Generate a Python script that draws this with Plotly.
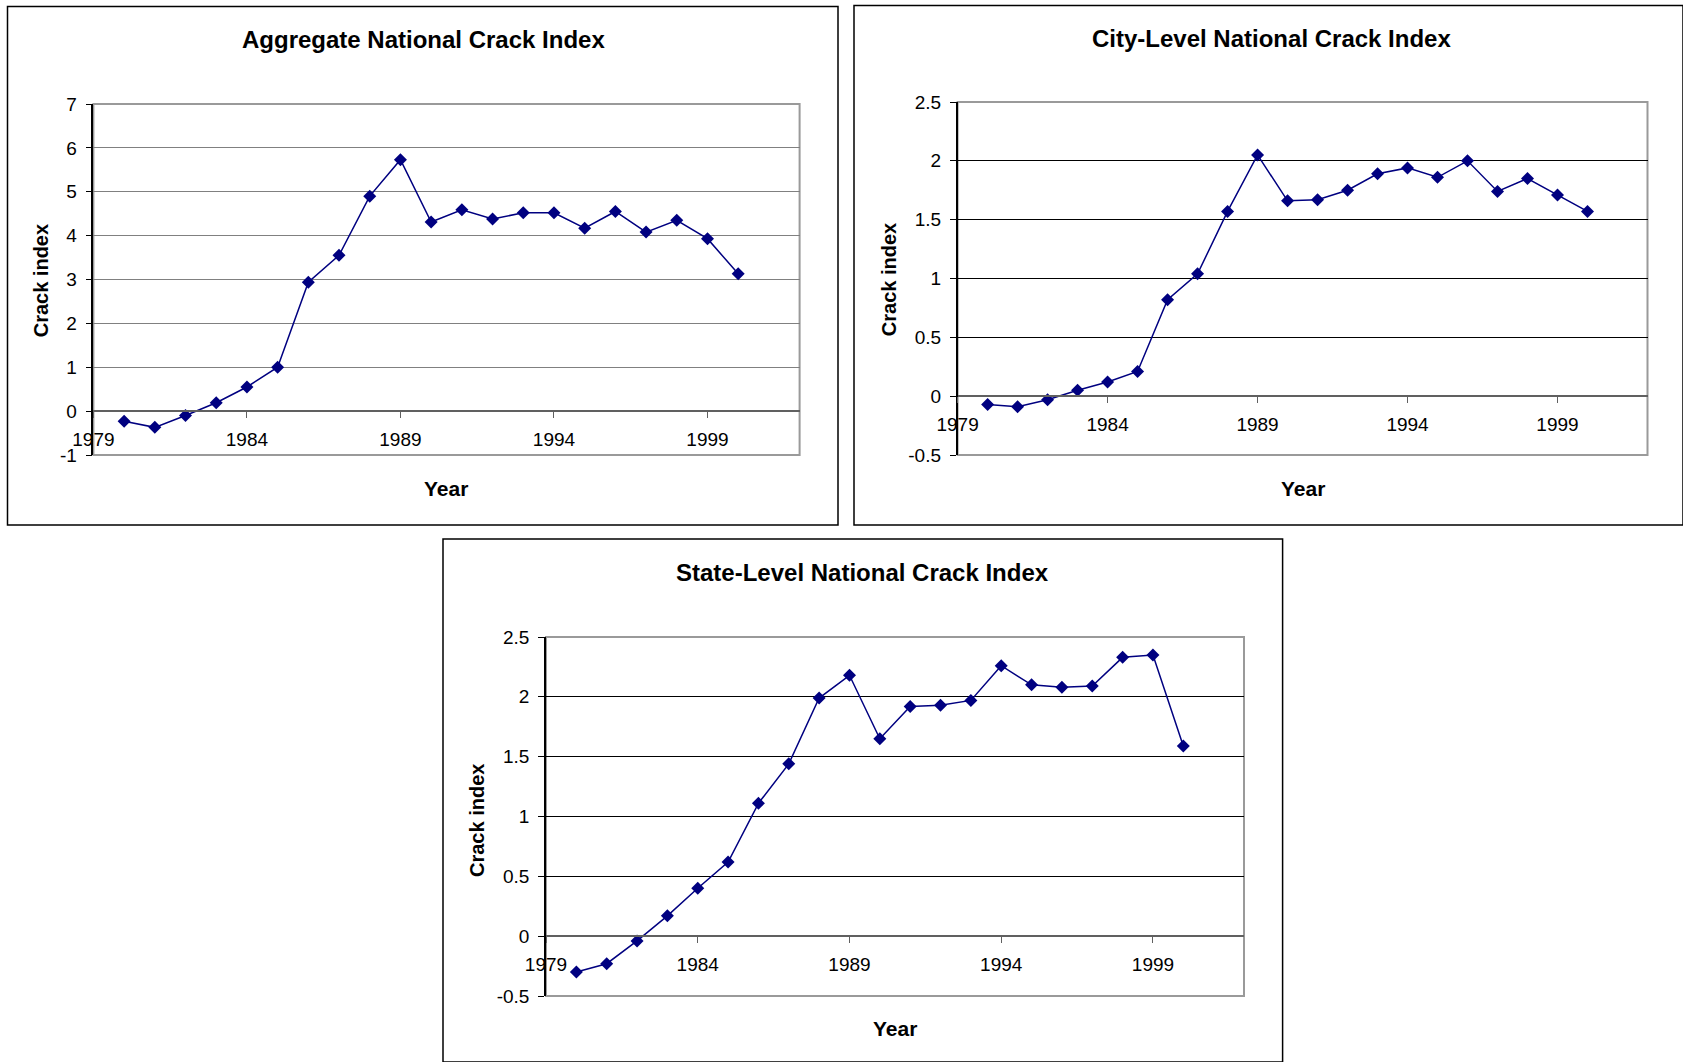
import plotly.graph_objects as go

# ---------------- data ----------------
years = [1980, 1981, 1982, 1983, 1984, 1985, 1986, 1987, 1988, 1989, 1990,
         1991, 1992, 1993, 1994, 1995, 1996, 1997, 1998, 1999, 2000]

aggregate_index = [-0.23, -0.37, -0.10, 0.19, 0.55, 1.00, 2.94, 3.55, 4.90, 5.73, 4.31,
                   4.59, 4.38, 4.52, 4.52, 4.17, 4.55, 4.08, 4.35, 3.93, 3.13]

city_index = [-0.07, -0.09, -0.03, 0.05, 0.12, 0.21, 0.82, 1.04, 1.57, 2.05, 1.66,
              1.67, 1.75, 1.89, 1.94, 1.86, 2.00, 1.74, 1.85, 1.71, 1.57]

state_index = [-0.30, -0.23, -0.04, 0.17, 0.40, 0.62, 1.11, 1.44, 1.99, 2.18, 1.65,
               1.92, 1.93, 1.97, 2.26, 2.10, 2.08, 2.09, 2.33, 2.35, 1.59]

titles = ["Aggregate National Crack Index",
          "City-Level National Crack Index",
          "State-Level National Crack Index"]

x_tickvals = [1979, 1984, 1989, 1994, 1999]
x_ticktext = ["1979", "1984", "1989", "1994", "1999"]

y1_tickvals = [-1, 0, 1, 2, 3, 4, 5, 6, 7]
y1_ticktext = ["-1", "0", "1", "2", "3", "4", "5", "6", "7"]
y23_tickvals = [-0.5, 0, 0.5, 1, 1.5, 2, 2.5]
y23_ticktext = ["-0.5", "0", "0.5", "1", "1.5", "2", "2.5"]

x_range = [1979, 2002]
y_ranges = [[-1, 7], [-0.5, 2.5], [-0.5, 2.5]]

# ---------------- layout geometry (pixels) ----------------
W, H = 1683, 1062
FONT = "Liberation Sans, Arial, Helvetica, sans-serif"
NAVY = "#000080"

panels = [
    dict(box=(7.5, 6.5, 838, 525), plot=(93.4, 104, 799.6, 455),
         title_xy=(423, 40), xtitle_y=488.5, ytitle_x=40.8, grid="#808080"),
    dict(box=(854, 5.5, 1683, 525), plot=(957.6, 102, 1647.5, 455),
         title_xy=(1271, 38), xtitle_y=488.5, ytitle_x=888.7, grid="#000000"),
    dict(box=(443, 539, 1282.6, 1062), plot=(546, 637, 1244, 996),
         title_xy=(863, 572), xtitle_y=1028, ytitle_x=476.5, grid="#000000"),
]
series = [aggregate_index, city_index, state_index]
yticks = [(y1_tickvals, y1_ticktext), (y23_tickvals, y23_ticktext), (y23_tickvals, y23_ticktext)]


def px(x):
    return x / W


def py(y):
    return 1 - y / H


fig = go.Figure()
shapes = []
annotations = []
layout_axes = {}

for i, (p, vals, (ytv, ytt), yr) in enumerate(zip(panels, series, yticks, y_ranges), start=1):
    xs = "" if i == 1 else str(i)
    x0, y0, x1, y1 = p["plot"]
    zero_frac = (0 - yr[0]) / (yr[1] - yr[0])
    dom_y = [py(y1), py(y0)]
    zero_pos = dom_y[0] + zero_frac * (dom_y[1] - dom_y[0])

    fig.add_trace(go.Scatter(
        x=years, y=vals, mode="lines+markers",
        line=dict(color=NAVY, width=1.5),
        marker=dict(symbol="diamond", size=10, color=NAVY),
        xaxis="x" + xs, yaxis="y" + xs, showlegend=False,
        hoverinfo="x+y",
    ))

    layout_axes["xaxis" + xs] = dict(
        domain=[px(x0), px(x1)], range=x_range, anchor="free", position=zero_pos,
        showline=True, linecolor="#606060", linewidth=1.5,
        ticks="outside", ticklen=6, tickwidth=1, tickcolor="#606060",
        tickvals=x_tickvals, ticktext=x_ticktext,
        tickfont=dict(family=FONT, size=19, color="#000000"),
        ticklabelstandoff=5, automargin=False,
        showgrid=False, zeroline=False, fixedrange=True,
    )
    layout_axes["yaxis" + xs] = dict(
        domain=dom_y, range=yr, anchor="x" + xs,
        showline=True, linecolor="#000000", linewidth=1.5,
        ticks="outside", ticklen=6, tickwidth=1, tickcolor="#000000",
        tickvals=ytv, ticktext=ytt,
        tickfont=dict(family=FONT, size=19, color="#000000"),
        ticklabelstandoff=5, automargin=False,
        showgrid=True, gridcolor=p["grid"], gridwidth=1,
        zeroline=False, fixedrange=True,
    )

    # plot-area frame (gray)
    shapes.append(dict(type="rect", xref="paper", yref="paper",
                       x0=px(x0), x1=px(x1), y0=py(y1), y1=py(y0),
                       line=dict(color="#9a9a9a", width=2), layer="below"))
    # panel outer frame (black)
    bx0, by0, bx1, by1 = p["box"]
    shapes.append(dict(type="rect", xref="paper", yref="paper",
                       x0=px(bx0), x1=px(bx1), y0=py(by1), y1=py(by0),
                       line=dict(color="#000000", width=1.5), layer="below"))

    tx, ty = p["title_xy"]
    annotations.append(dict(text="<b>" + titles[i - 1] + "</b>", xref="paper", yref="paper",
                            x=px(tx), y=py(ty), xanchor="center", yanchor="middle",
                            showarrow=False, font=dict(family=FONT, size=24, color="#000000")))
    annotations.append(dict(text="<b>Year</b>", xref="paper", yref="paper",
                            x=px((x0 + x1) / 2), y=py(p["xtitle_y"]),
                            xanchor="center", yanchor="middle", showarrow=False,
                            font=dict(family=FONT, size=21, color="#000000")))
    annotations.append(dict(text="<b>Crack index</b>", xref="paper", yref="paper",
                            x=px(p["ytitle_x"]), y=py((y0 + y1) / 2 + (1 if i < 3 else 4)),
                            xanchor="center", yanchor="middle", textangle=-90, showarrow=False,
                            font=dict(family=FONT, size=20, color="#000000")))

fig.update_layout(
    width=W, height=H,
    margin=dict(l=0, r=0, t=0, b=0, pad=0, autoexpand=False),
    paper_bgcolor="white", plot_bgcolor="white",
    shapes=shapes, annotations=annotations,
    font=dict(family=FONT, color="#000000"),
    **layout_axes,
)

fig.write_html("out.html",
               config={"displayModeBar": False},
               post_script="document.body.style.margin='0';document.body.style.overflow='hidden';")
